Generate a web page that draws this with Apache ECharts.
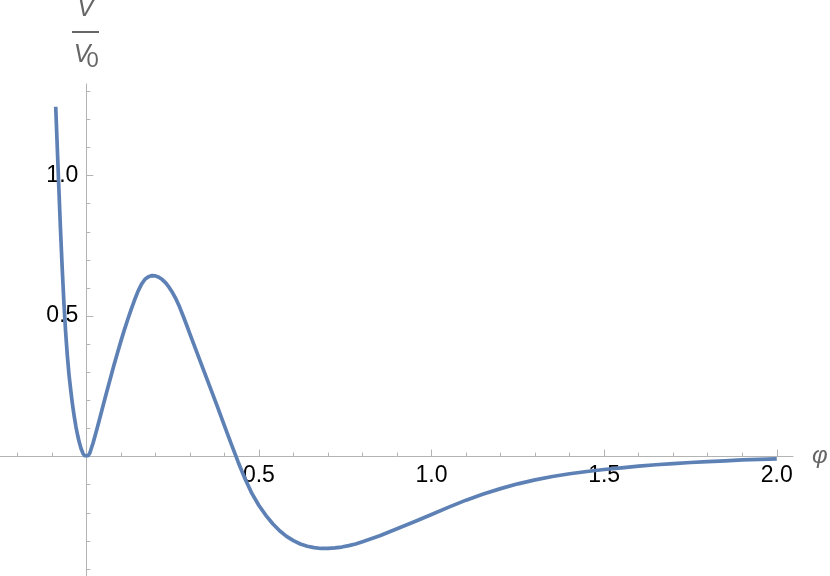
<!DOCTYPE html>
<html><head><meta charset="utf-8">
<script src="https://cdn.jsdelivr.net/npm/echarts@6/dist/echarts.min.js"></script>
<style>html,body{margin:0;padding:0;background:#fff}#c{width:830px;height:576px}</style>
</head><body><div id="c"></div><script>
// phi values (x) and V/V0 values (y)
const phi = [-0.0886,-0.085,-0.080,-0.075,-0.070,-0.065,-0.060,-0.055,-0.050,-0.045,-0.040,-0.035,-0.030,-0.025,-0.020,-0.015,-0.010,-0.005,0,
  0.005,0.01,0.02,0.03,0.04,0.05,0.06,0.07,0.08,0.09,0.10,0.11,0.12,0.13,0.14,0.15,0.16,0.17,0.18,0.19,0.20,
  0.21,0.22,0.23,0.24,0.25,0.26,0.27,0.28,0.29,0.30,0.32,0.34,0.36,0.38,0.40,0.42,0.44,0.46,0.48,0.50,
  0.52,0.54,0.56,0.58,0.60,0.62,0.64,0.66,0.68,0.70,0.72,0.74,0.76,0.78,0.80,0.85,0.90,0.95,1.00,
  1.05,1.10,1.15,1.20,1.25,1.30,1.35,1.40,1.45,1.50,1.55,1.60,1.65,1.70,1.75,1.80,1.85,1.90,1.95,2.00];
const vRatio = [1.245,1.13,0.97,0.815,0.675,0.55,0.445,0.36,0.29,0.235,0.185,0.143,0.106,0.075,0.049,0.028,0.012,0.003,0,
  0.003,0.012,0.05,0.095,0.141,0.188,0.234,0.28,0.325,0.368,0.41,0.45,0.488,0.524,0.558,0.589,0.614,0.631,0.640,0.644,0.643,
  0.638,0.630,0.618,0.602,0.583,0.560,0.533,0.502,0.470,0.437,0.372,0.307,0.242,0.177,0.110,0.044,-0.020,-0.080,-0.132,-0.174,
  -0.209,-0.239,-0.264,-0.284,-0.299,-0.311,-0.319,-0.324,-0.327,-0.327,-0.325,-0.322,-0.317,-0.311,-0.303,-0.282,-0.257,-0.232,-0.206,
  -0.180,-0.155,-0.133,-0.114,-0.097,-0.083,-0.071,-0.061,-0.053,-0.046,-0.040,-0.034,-0.029,-0.025,-0.021,-0.018,-0.015,-0.012,-0.010,-0.008];

const xMajorTicks = [0.5, 1.0, 1.5, 2.0];
const xMinorTicks = [-0.2,-0.1,0.1,0.2,0.3,0.4,0.6,0.7,0.8,0.9,1.1,1.2,1.3,1.4,1.6,1.7,1.8,1.9];
const yMajorTicks = [0.5, 1.0];
const yMinorTicks = [-0.4,-0.3,-0.2,-0.1,0.1,0.2,0.3,0.4,0.6,0.7,0.8,0.9,1.1,1.2,1.3];
const xTickLabels = ['0.5', '1.0', '1.5', '2.0'];
const yTickLabels = ['0.5', '1.0'];
const xAxisName = 'φ';
const yNameNum = 'V';
const yNameDen = 'V';
const yNameSub = '0';

const AX = '#b3b3b3';
const LBL = {fontSize: 23, color: '#000', fontFamily: 'Liberation Sans'};
const XMIN = -0.25, XMAX = 2.047, YMIN = -0.425, YMAX = 1.326;
const W = 830, H = 576;
const G = {left: 0, right: 37, top: 84, bottom: 0};
const gridW = W - G.left - G.right, gridH = H - G.top - G.bottom;
// shift the axes from the grid edges onto the zero lines (they cross at the origin)
const xAxisOffset = -((0 - YMIN) / (YMAX - YMIN)) * gridH;
const yAxisOffset = -((0 - XMIN) / (XMAX - XMIN)) * gridW;

function labelFor(ticks, labels) {
  return v => {
    for (let i = 0; i < ticks.length; i++) if (Math.abs(v - ticks[i]) < 1e-6) return labels[i];
    return '';
  };
}

const chart = echarts.init(document.getElementById('c'), null, {renderer: 'canvas'});
chart.setOption({
  animation: false,
  backgroundColor: '#fff',
  grid: {left: G.left, right: G.right, top: G.top, bottom: G.bottom, containLabel: false, outerBoundsMode: 'none'},
  xAxis: [
    {type: 'value', min: XMIN, max: XMAX, position: 'bottom', offset: xAxisOffset,
     axisLine: {show: true, onZero: false, lineStyle: {color: AX, width: 1}},
     axisTick: {show: true, inside: true, length: 4, customValues: xMinorTicks, lineStyle: {color: AX, width: 1}},
     axisLabel: {show: false}, splitLine: {show: false},
     name: xAxisName, nameLocation: 'end', nameGap: 19,
     nameTextStyle: {fontSize: 24, fontStyle: 'italic', color: '#666', fontFamily: 'Liberation Sans', verticalAlign: 'middle'}},
    {type: 'value', min: XMIN, max: XMAX, position: 'bottom', offset: xAxisOffset,
     axisLine: {show: false, onZero: false},
     axisTick: {show: true, inside: true, length: 7, customValues: xMajorTicks, lineStyle: {color: AX, width: 1}},
     axisLabel: {show: true, customValues: xMajorTicks, margin: 8, hideOverlap: false,
                 formatter: labelFor(xMajorTicks, xTickLabels), ...LBL},
     splitLine: {show: false}}
  ],
  yAxis: [
    {type: 'value', min: YMIN, max: YMAX, position: 'left', offset: yAxisOffset,
     axisLine: {show: true, onZero: false, lineStyle: {color: AX, width: 1}},
     axisTick: {show: true, inside: true, length: 4, customValues: yMinorTicks, lineStyle: {color: AX, width: 1}},
     axisLabel: {show: false}, splitLine: {show: false}},
    {type: 'value', min: YMIN, max: YMAX, position: 'left', offset: yAxisOffset,
     axisLine: {show: false, onZero: false},
     axisTick: {show: true, inside: true, length: 7, customValues: yMajorTicks, lineStyle: {color: AX, width: 1}},
     axisLabel: {show: true, customValues: yMajorTicks, margin: 8, hideOverlap: false,
                 formatter: labelFor(yMajorTicks, yTickLabels), ...LBL},
     splitLine: {show: false}}
  ],
  graphic: [
    {type: 'text', x: 85.5, y: 9, style: {text: yNameNum, font: 'italic 25px "Liberation Sans"', fill: '#666', align: 'center', verticalAlign: 'middle'}},
    {type: 'line', shape: {x1: 72, y1: 32, x2: 99, y2: 32}, style: {stroke: '#666', lineWidth: 2}},
    {type: 'text', x: 82, y: 55.5, style: {text: yNameDen, font: 'italic 25px "Liberation Sans"', fill: '#666', align: 'center', verticalAlign: 'middle'}},
    {type: 'text', x: 92.5, y: 61, style: {text: yNameSub, font: '22px "Liberation Sans"', fill: '#666', align: 'center', verticalAlign: 'middle'}}
  ],
  series: [{
    type: 'line', xAxisIndex: 0, yAxisIndex: 0, z: 5,
    data: phi.map((p, i) => [p, vRatio[i]]),
    showSymbol: false, symbol: 'none', smooth: false, clip: false,
    lineStyle: {color: '#5E81B5', width: 3.7, join: 'round', cap: 'butt'}
  }]
});
</script></body></html>
